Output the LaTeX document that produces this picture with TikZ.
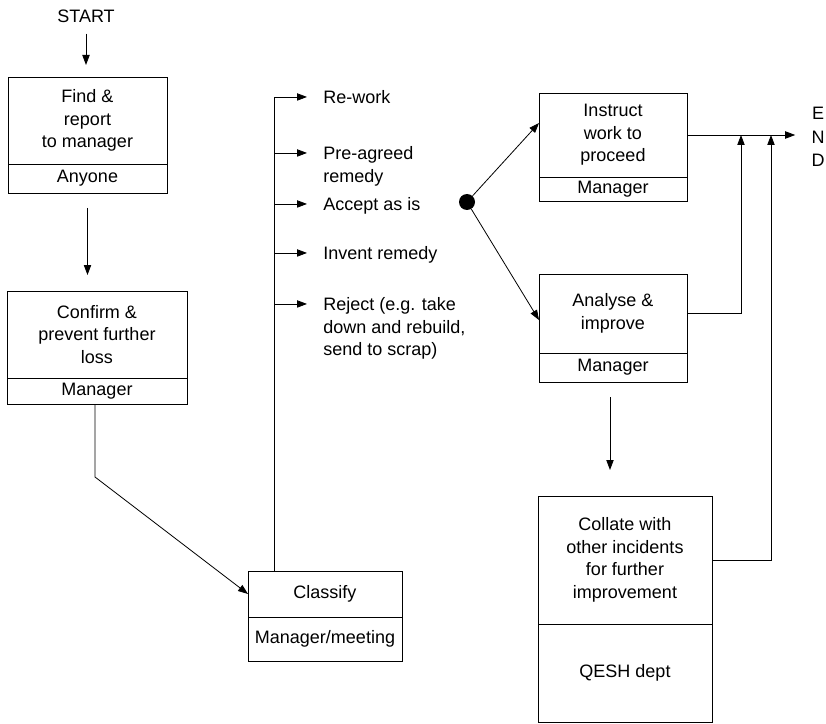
\documentclass[tikz,border=0pt]{standalone}
\usepackage{fontspec}
\setmainfont{Liberation Sans}
\usetikzlibrary{arrows.meta,positioning}

\begin{document}
\begin{tikzpicture}[
  x=0.75pt, y=-0.75pt,
  font=\fontsize{13.5}{17}\selectfont,
  box/.style={draw, line width=0.6pt, inner sep=0pt, outer sep=0pt, align=center},
  opt/.style={anchor=north west, inner sep=0pt, align=left},
  arr/.style={-{Triangle[length=7.5pt, width=5.5pt]}, line width=0.6pt},
  line/.style={line width=0.6pt},
  dot/.style={circle, fill, inner sep=0pt, minimum size=12pt}
]
\useasboundingbox (0,0) rectangle (826,724);

% left column
\node (start) at (86,16) {START};
\node[box, minimum width=119.25pt, minimum height=65.25pt] (find) at (87.5,120.5) {Find \&\\report\\to manager};
\node[box, minimum width=119.25pt, minimum height=21.75pt, below=0pt of find] (findrole) {Anyone};
\node[box, minimum width=135pt, minimum height=65.25pt] (confirm) at (97,334.5) {Confirm \&\\prevent further\\loss};
\node[box, minimum width=135pt, minimum height=19.5pt, below=0pt of confirm] (confirmrole) {Manager};
\node[box, minimum width=115.5pt, minimum height=34.5pt] (classify) at (325,594) {Classify};
\node[box, minimum width=115.5pt, minimum height=33pt, below=0pt of classify] (classifyrole) {Manager/meeting};

% options
\node[opt] (rework) at (323,90.3) {Re-work};
\node[opt] (preagreed) at (323,146.3) {Pre-agreed\\remedy};
\node[opt] (accept) at (323,197.3) {Accept as is};
\node[opt] (invent) at (323,246.3) {Invent remedy};
\node[opt] (reject) at (323,297.3) {Reject (e.g. take\\down and rebuild,\\send to scrap)};
\node[dot] (junction) at (467,202) {};

% right column
\node[box, minimum width=111pt, minimum height=63pt] (instruct) at (613,135) {Instruct\\work to\\proceed};
\node[box, minimum width=111pt, minimum height=18pt, below=0pt of instruct] (instructrole) {Manager};
\node[box, minimum width=111pt, minimum height=59.25pt] (analyse) at (613,313.5) {Analyse \&\\improve};
\node[box, minimum width=111pt, minimum height=21.75pt, below=0pt of analyse] (analyserole) {Manager};
\node[box, minimum width=130.5pt, minimum height=96pt] (collate) at (625,560) {Collate with\\other incidents\\for further\\improvement};
\node[box, minimum width=130.5pt, minimum height=73.5pt, below=0pt of collate] (collaterole) {QESH dept};
\node[align=center, inner sep=0pt, font=\fontsize{13.5}{17.5}\selectfont] (end) at (818,137) {E\\N\\D};

% connectors
\draw[arr, shorten <=5pt, shorten >=9pt] (start.south) -- (start.south |- find.north);
\draw[arr, shorten <=11.25pt, shorten >=12pt] (findrole.south) -- (findrole.south |- confirm.north);
\draw[arr] ([xshift=-1.5pt]confirmrole.south) -- ++(0,73) -- (classify.west);

\coordinate (trunk) at ([xshift=19.5pt]classify.north west);
\foreach \o in {rework,preagreed,accept,invent,reject}
  \coordinate (\o-in) at ([xshift=-12pt,yshift=-5pt]\o.north west);
\draw[line] (trunk) -- (trunk |- rework-in);
\foreach \o in {rework,preagreed,accept,invent,reject}
  \draw[arr] (trunk |- \o-in) -- (\o-in);

\draw[arr] (junction) -- ([yshift=9pt]instruct.west);
\draw[arr] (junction) -- ([yshift=-4.9pt]analyse.west);
\draw[arr, shorten >=12pt] (instruct.east) -- (instruct.east -| end.west);
\coordinate (join1) at ([xshift=40.5pt]instruct.east);
\coordinate (join2) at ([xshift=63pt]instruct.east);
\draw[arr] (analyse.east) -| (join1);
\draw[arr] (collate.east) -| (join2);
\draw[arr, shorten <=11.25pt, shorten >=19.5pt] ([xshift=-2.25pt]analyserole.south) -- ([xshift=-2.25pt]analyserole.south |- collate.north);
\end{tikzpicture}
\end{document}
